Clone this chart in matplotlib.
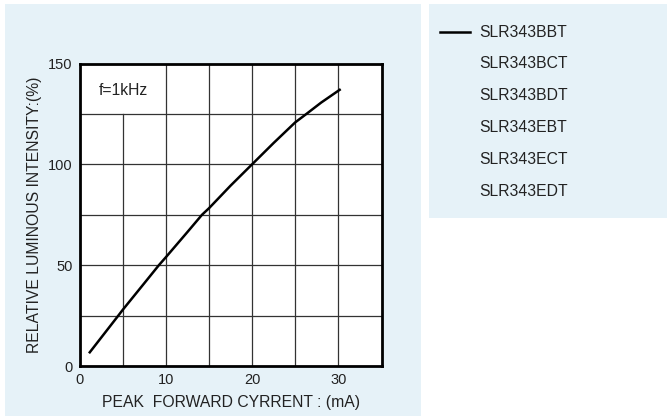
import matplotlib
matplotlib.use("Agg")
import matplotlib.pyplot as plt
from matplotlib.patches import Rectangle
from matplotlib.lines import Line2D

plt.rcParams['font.family'] = ['Liberation Sans', 'DejaVu Sans']

current_ma = [1.1, 4.5, 5.0, 7.5, 9.2, 10.0, 12.5, 14.2, 15.0, 17.5, 20.0, 22.5, 25.0, 26.3, 28.0, 30.27]
intensity = [6.3, 25.0, 27.8, 41.0, 50.0, 53.9, 66.4, 75.0, 78.2, 89.4, 100.0, 110.6, 120.8, 125.0, 130.6, 137.3]
x_ticks = [0, 10, 20, 30]
y_ticks = [0, 50, 100, 150]
legend_labels = ["SLR343BBT", "SLR343BCT", "SLR343BDT", "SLR343EBT", "SLR343ECT", "SLR343EDT"]

W, H = 667, 416
fig = plt.figure(figsize=(W / 100, H / 100), dpi=100)
fig.patch.set_facecolor("white")
bg = "#E6F2F8"
fig.patches.append(Rectangle((5 / W, 0), (421 - 5) / W, (416 - 4) / H, transform=fig.transFigure,
                             facecolor=bg, edgecolor="none", zorder=-5))
fig.patches.append(Rectangle((429 / W, (416 - 218) / H), (667 - 429) / W, (218 - 4) / H,
                             transform=fig.transFigure, facecolor=bg, edgecolor="none", zorder=-5))

ax_l, ax_r, ax_t, ax_b = 79.5, 381.5, 63.5, 366
ax = fig.add_axes([ax_l / W, 1 - ax_b / H, (ax_r - ax_l) / W, (ax_b - ax_t) / H])
ax.set_zorder(1)
ax.set_facecolor("white")
ax.set_xlim(0, 35)
ax.set_ylim(0, 150)

# grid
grid_kw = dict(color="#333333", lw=0.9, zorder=1)
for gx in [5, 10, 15, 20, 25, 30]:
    top = 125 if gx == 5 else 150
    ax.plot([gx, gx], [0, top], **grid_kw)
for gy in [25, 50, 75, 100, 125]:
    ax.plot([0, 35], [gy, gy], **grid_kw)

ax.plot(current_ma, intensity, color="black", lw=1.8, zorder=3,
        solid_capstyle="butt", solid_joinstyle="round")

for s in ax.spines.values():
    s.set_linewidth(2.0)
    s.set_color("black")
ax.set_xticks(x_ticks)
ax.set_yticks(y_ticks)
ax.tick_params(length=0, labelsize=10.5, colors="#222222", pad=5)
ax.text(2.2, 136.8, "f=1kHz", fontsize=11.3, va="center", ha="left", color="#222222")

ax.set_xlabel("PEAK  FORWARD CYRRENT : (mA)", fontsize=11.3, color="#222222", labelpad=6)
ax.set_ylabel("RELATIVE LUMINOUS INTENSITY:(%)", fontsize=11.3, color="#222222", labelpad=4)

# legend
rows_y = [32.3, 63.5, 95.7, 127.7, 159.5, 191.7]
fig.lines.append(Line2D([440 / W, 470 / W], [1 - rows_y[0] / H, 1 - rows_y[0] / H],
                        transform=fig.transFigure, color="black", lw=1.8))
for lbl, yy in zip(legend_labels, rows_y):
    fig.text(479 / W, 1 - yy / H, lbl, fontsize=11.3, va="center", ha="left", color="#222222")

fig.savefig("out.png", dpi=100, facecolor=fig.get_facecolor())
